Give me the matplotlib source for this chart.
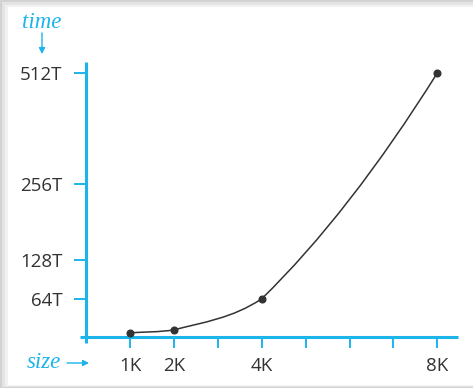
import numpy as np
import matplotlib
matplotlib.use("Agg")
import matplotlib.pyplot as plt
from matplotlib.patches import Rectangle, FancyArrowPatch, PathPatch
from matplotlib.path import Path

# ---- data ----
sizes = [1, 2, 4, 8]              # problem size, in K
times = [7, 12, 64, 512]          # running time, in units of T
x_ticks = [1, 2, 3, 4, 5, 6, 7, 8]
x_ticklabels = ["1K", "2K", "", "4K", "", "", "", "8K"]
y_ticks = [64, 128, 256, 512]
y_ticklabels = ["64T", "128T", "256T", "512T"]

CYAN = "#1cb5ea"
INK = "#333333"
W, H = 473, 388

fig = plt.figure(figsize=(W / 100, H / 100), dpi=100)
fig.patch.set_facecolor("white")

def px_rect(x0, y0, x1, y1, color, z=-10):
    fig.add_artist(Rectangle((x0 / W, 1 - y1 / H), (x1 - x0) / W, (y1 - y0) / H,
                             transform=fig.transFigure, facecolor=color,
                             edgecolor="none", zorder=z))

# page frame / shadow
px_rect(0, 0, W + 5, H + 5, "#d2d2d2", -12)
px_rect(2, 2, W + 5, 386.5, "#e4e4e4", -11)
px_rect(5, 4.5, W + 5, 385.7, "#f1f1f1", -10.5)
px_rect(8, 7, W + 5, 385, "white", -10)

# y scale: linear up to 256, compressed above (as in the drawing)
BRK, K = 256.0, 0.7255
def fwd(y):
    y = np.asarray(y, dtype=float)
    return np.where(y <= BRK, y, BRK + (y - BRK) * K)
def inv(v):
    v = np.asarray(v, dtype=float)
    return np.where(v <= BRK, v, BRK + (v - BRK) / K)

ax = fig.add_axes([80 / W, 1 - 343 / H, (458 - 80) / W, (343 - 62) / H])
ax.set_facecolor("none")
ax.set_yscale("function", functions=(fwd, inv))
ax.set_xlim(-0.14, 8.47)
ax.set_ylim(-10, 537)

for s in ["top", "right"]:
    ax.spines[s].set_visible(False)
for s in ["left", "bottom"]:
    ax.spines[s].set_position(("data", 0))
    ax.spines[s].set_color(CYAN)
    ax.spines[s].set_linewidth(2.2)
    ax.spines[s].set_capstyle("butt")

ax.set_xticks(x_ticks)
ax.set_xticklabels(x_ticklabels)
ax.set_yticks(y_ticks)
ax.set_yticklabels(y_ticklabels)
ax.minorticks_off()
ax.tick_params(axis="x", direction="out", length=8, width=1.4, color=CYAN,
               pad=6.5, labelsize=13.5, labelcolor=INK)
ax.tick_params(axis="y", direction="out", length=8.6, width=1.4, color=CYAN,
               pad=8.5, labelsize=13.5, labelcolor=INK)
for lab in ax.get_xticklabels() + ax.get_yticklabels():
    lab.set_fontfamily("Open Sans")

# smooth curve through the points: cubic Hermite in display space
P = ax.transData.transform(np.column_stack([sizes, times]))
n = len(P)
h = np.diff(P[:, 0])
s = np.diff(P[:, 1]) / h
d_in = np.empty(n)
d_out = np.empty(n)
for i in range(1, n - 1):
    d_out[i] = (P[i + 1, 1] - P[i - 1, 1]) / (P[i + 1, 0] - P[i - 1, 0])
    d_in[i] = (h[i] * s[i - 1] + h[i - 1] * s[i]) / (h[i - 1] + h[i])
d_out[0] = d_in[0] = s[0]
d_in[-1] = d_out[-1] = 2 * s[-1] - d_out[-2]
verts = [P[0]]
codes = [Path.MOVETO]
for i in range(n - 1):
    k = h[i] / 3.0
    verts += [P[i] + [k, d_out[i] * k], P[i + 1] - [k, d_in[i + 1] * k], P[i + 1]]
    codes += [Path.CURVE4] * 3
verts_ax = ax.transAxes.inverted().transform(np.array(verts))
ax.add_patch(PathPatch(Path(verts_ax, codes), transform=ax.transAxes,
                       facecolor="none", edgecolor=INK, lw=1.1, zorder=3,
                       clip_on=False))
ax.plot(sizes, times, "o", color=INK, markersize=4.8, zorder=4, clip_on=False)

# axis captions with arrows
def fp(x, y):
    return (x / W, 1 - y / H)

fig.text(*fp(42, 28), "time", color=CYAN, fontsize=16.5, fontstyle="italic",
         family="Liberation Serif", ha="center", va="baseline")
fig.text(*fp(43.5, 368), "size", color=CYAN, fontsize=16.5, fontstyle="italic",
         family="Liberation Serif", ha="center", va="baseline")
fig.add_artist(FancyArrowPatch(fp(42, 33), fp(42, 54), transform=fig.transFigure,
                               arrowstyle="-|>,head_length=3.5,head_width=1.8",
                               color=CYAN, lw=1.0, shrinkA=0, shrinkB=0))
fig.add_artist(FancyArrowPatch(fp(67, 363), fp(89, 363), transform=fig.transFigure,
                               arrowstyle="-|>,head_length=3.5,head_width=1.8",
                               color=CYAN, lw=1.0, shrinkA=0, shrinkB=0))

fig.savefig("out.png", dpi=100)
